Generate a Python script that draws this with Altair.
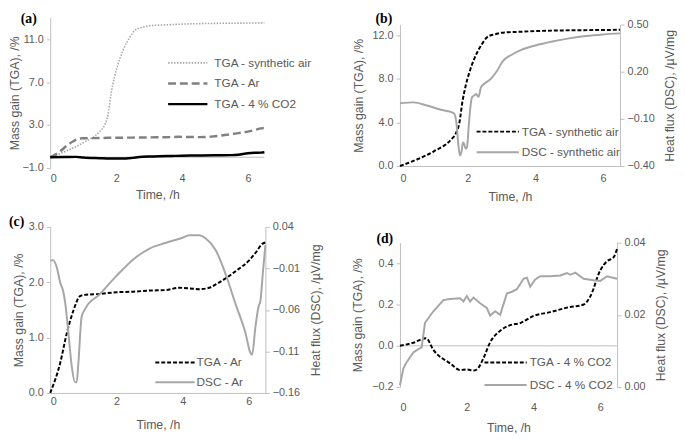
import altair as alt
import pandas as pd

# ---------------- data ----------------
# TGA, synthetic air (mass gain, %)
t_air = [0, 0.5, 1.0, 1.5, 1.65, 1.75, 1.85, 1.95, 2.05, 2.2, 2.4, 2.6, 2.8, 3.0, 3.5, 4.0, 5.0, 6.0, 6.5]
m_air = [0, 0.6, 1.35, 2.4, 3.0, 3.9, 6.0, 7.5, 8.6, 9.9, 11.1, 11.9, 12.1, 12.25, 12.33, 12.4, 12.47, 12.5, 12.52]

# DSC, synthetic air (heat flux, uV/mg)
t_dsc_air = [0, 0.4, 0.8, 1.2, 1.5, 1.6, 1.67, 1.72, 1.77, 1.82, 1.86, 1.9, 1.94, 1.98, 2.03, 2.08, 2.13,
             2.2, 2.25, 2.32, 2.39, 2.5, 2.66, 2.85, 3.04, 3.3, 3.6, 4.0, 4.5, 5.0, 5.5, 6.0, 6.5]
h_dsc_air = [0.0, 0.005, -0.015, -0.042, -0.056, -0.067, -0.13, -0.254, -0.333, -0.306, -0.25, -0.262, -0.29,
             -0.28, -0.15, -0.025, 0.037, 0.05, 0.058, 0.04, 0.1, 0.125, 0.15, 0.2, 0.267, 0.308, 0.34, 0.367,
             0.392, 0.412, 0.427, 0.437, 0.444]

# TGA, Ar
t_ar = [0, 0.3, 0.5, 0.7, 0.9, 1.0, 1.5, 2.0, 2.5, 3.0, 3.5, 3.9, 4.2, 4.5, 4.8, 5.0, 5.3, 5.6, 6.0, 6.2, 6.4, 6.5]
m_ar = [0, 0.54, 1.08, 1.49, 1.75, 1.77, 1.79, 1.82, 1.83, 1.85, 1.86, 1.9, 1.89, 1.875, 1.9, 1.96, 2.07, 2.2,
        2.39, 2.53, 2.69, 2.72]

# DSC, Ar
t_dsc_ar = [0, 0.08, 0.2, 0.3, 0.4, 0.45, 0.55, 0.65, 0.75, 0.8, 0.85, 0.95, 1.05, 1.5, 2.0, 2.5, 3.0, 3.5,
            4.0, 4.2, 4.5, 4.7, 5.0, 5.3, 5.6, 5.9, 6.05, 6.1, 6.2, 6.3, 6.35, 6.42, 6.5]
h_dsc_ar = [-0.001, 0.0, -0.009, -0.027, -0.039, -0.051, -0.088, -0.128, -0.147, -0.147, -0.124, -0.068,
            -0.059, -0.041, -0.019, 0.0006, 0.014, 0.021, 0.027, 0.030, 0.030, 0.026, 0.012, -0.017, -0.053,
            -0.088, -0.112, -0.114, -0.080, -0.055, -0.049, -0.017, 0.018]

# TGA, 4 % CO2
t_co2 = [0, 0.4, 0.78, 1.0, 1.5, 1.8, 2.0, 2.2, 2.3, 2.5, 2.7, 3.0, 3.3, 3.6, 4.0, 4.5, 5.0, 5.5, 5.7, 6.0,
         6.2, 6.4, 6.5]
m_co2 = [0.0, 0.015, 0.037, -0.02, -0.085, -0.117, -0.115, -0.12, -0.115, -0.06, 0.017, 0.073, 0.10, 0.11,
         0.145, 0.163, 0.185, 0.2, 0.24, 0.367, 0.41, 0.43, 0.47]

# DSC, 4 % CO2
t_dsc_co2 = [0, 0.1, 0.2, 0.4, 0.55, 0.65, 0.75, 1.0, 1.3, 1.5, 1.8, 1.9, 2.0, 2.1, 2.2, 2.4, 2.6, 2.7, 2.85,
             3.0, 3.2, 3.35, 3.5, 3.7, 3.8, 3.9, 4.05, 4.2, 4.5, 4.8, 5.0, 5.1, 5.25, 5.5, 5.8, 6.0, 6.2, 6.5]
h_dsc_co2 = [0.0005, 0.0051, 0.0069, 0.0096, 0.0105, 0.011, 0.0178, 0.021, 0.0241, 0.0244, 0.0246, 0.0237,
             0.0252, 0.0237, 0.0248, 0.0232, 0.0219, 0.0198, 0.021, 0.020, 0.0259, 0.0264, 0.0271, 0.030,
             0.0303, 0.0278, 0.0298, 0.0307, 0.0307, 0.0309, 0.0316, 0.0311, 0.0317, 0.030, 0.0296, 0.0294,
             0.0307, 0.030]

x_ticks = [0, 2, 4, 6]
panel_labels = ["(a)", "(b)", "(c)", "(d)"]
legend_a = ["TGA - synthetic air", "TGA - Ar", "TGA - 4 % CO2"]
legend_b = ["TGA - synthetic air", "DSC - synthetic air"]
legend_c = ["TGA - Ar", "DSC - Ar"]
legend_d = ["TGA - 4 % CO2", "DSC - 4 % CO2"]

# ---------------- styles ----------------
FONT = "Liberation Sans"
TXT = "#595959"
AXG = "#bfbfbf"
DSCG = "#a6a6a6"
TGA_DASH = [4, 2]

one = pd.DataFrame({"k": [0]})


def df(t, v):
    return pd.DataFrame({"t": t, "v": v})


def x_enc(domain_line, lpad, tpad):
    return alt.X("t:Q", scale=alt.Scale(domain=[0, 6.5], nice=False),
                 axis=alt.Axis(values=x_ticks, title="Time, /h", format="d", domain=domain_line, ticks=False,
                               labelPadding=lpad, titlePadding=tpad))


def left_y(domain, values, tpad, rng=None, fmt=".1f"):
    sc = dict(domain=domain, nice=False, zero=False)
    if rng:
        sc["range"] = rng
    return alt.Y("v:Q", scale=alt.Scale(**sc),
                 axis=alt.Axis(values=values, format=fmt, title="Mass gain (TGA), /%", orient="left",
                               titlePadding=tpad, labelPadding=3))


def right_y(domain, values, rng=None, fmt=".2f"):
    sc = dict(domain=domain, nice=False, zero=False)
    if rng:
        sc["range"] = rng
    return alt.Y("v:Q", scale=alt.Scale(**sc),
                 axis=alt.Axis(values=values, format=fmt, title="Heat flux (DSC), /µV/mg", orient="right",
                               titleAngle=270, titleBaseline="top", titlePadding=10, labelPadding=3))


def legend_entry(text, lx1, lx2, ty, tx, color, width, dash=None):
    rule_kw = dict(color=color, strokeWidth=width)
    if dash:
        rule_kw["strokeDash"] = dash
    r = alt.Chart(one).mark_rule(**rule_kw).encode(
        x=alt.value(lx1), x2=alt.value(lx2), y=alt.value(ty))
    t = alt.Chart(one).mark_text(align="left", baseline="middle", font=FONT, fontSize=12, color=TXT).encode(
        x=alt.value(tx), y=alt.value(ty), text=alt.value(text))
    return [r, t]


def panel_label(text, x, y):
    return alt.Chart(one).mark_text(align="left", baseline="alphabetic", font="Liberation Serif",
                                    fontSize=14, fontWeight="bold", color="black").encode(
        x=alt.value(x), y=alt.value(y), text=alt.value(text))


# ---------------- panel (a) ----------------
Xa = x_enc(False, 5, 5)
ya = left_y([-1, 13], [-1, 3, 7, 11], 1)
a_zero = alt.Chart(one).mark_rule(color=AXG, strokeWidth=1).encode(y=alt.datum(0))
a_air = alt.Chart(df(t_air, m_air)).mark_line(color=DSCG, strokeWidth=1.6, strokeDash=[1.5, 1.5],
                                              interpolate="monotone").encode(x=Xa, y=ya)
a_ar = alt.Chart(df(t_ar, m_ar)).mark_line(color="#808080", strokeWidth=2.5, strokeDash=[8, 4],
                                           interpolate="monotone").encode(x=Xa, y=ya)
a_co2 = alt.Chart(df(t_co2, m_co2)).mark_line(color="black", strokeWidth=2.5,
                                              interpolate="monotone").encode(x=Xa, y=ya)
leg_a = (legend_entry(legend_a[0], 120, 160, 46, 167, DSCG, 1.6, [1.5, 1.5])
         + legend_entry(legend_a[1], 120, 160, 67, 167, "#808080", 2.5, [8, 4])
         + legend_entry(legend_a[2], 120, 160, 88, 167, "black", 2.5))
panel_a = alt.layer(a_zero, a_air, a_ar, a_co2, *leg_a, panel_label(panel_labels[0], -30, 5)).properties(
    width=218, height=153)

# ---------------- panel (b) ----------------
Xb = x_enc(True, 7, 7)
B_RANGE = [151, 7]
yb_l = left_y([0, 13], [0, 4, 8, 12], 7, B_RANGE)
yb_r = right_y([-0.4, 0.5], [-0.4, -0.1, 0.2, 0.5], B_RANGE)
b_tga = alt.Chart(df(t_air, m_air)).mark_line(color="black", strokeWidth=2, strokeDash=TGA_DASH,
                                              interpolate="monotone").encode(x=Xb, y=yb_l)
b_dsc = alt.Chart(df(t_dsc_air, h_dsc_air)).mark_line(color=DSCG, strokeWidth=2,
                                                      interpolate="monotone").encode(x=Xb, y=yb_r)
leg_b = (legend_entry(legend_b[0], 78, 121, 116, 124, "black", 2, TGA_DASH)
         + legend_entry(legend_b[1], 78, 121, 137, 124, DSCG, 2))
panel_b = alt.layer(
    alt.layer(b_tga, *leg_b, panel_label(panel_labels[1], -25, 5)),
    b_dsc,
).resolve_scale(y="independent").properties(width=224, height=151)

# ---------------- panel (c) ----------------
Xc = x_enc(True, 3, 12)
yc_l = left_y([0, 3], [0, 1, 2, 3], 3)
yc_r = right_y([-0.16, 0.04], [-0.16, -0.11, -0.06, -0.01, 0.04])
c_tga = alt.Chart(df(t_ar, m_ar)).mark_line(color="black", strokeWidth=2, strokeDash=TGA_DASH,
                                            interpolate="monotone").encode(x=Xc, y=yc_l)
c_dsc = alt.Chart(df(t_dsc_ar, h_dsc_ar)).mark_line(color=DSCG, strokeWidth=2,
                                                    interpolate="monotone").encode(x=Xc, y=yc_r)
leg_c = (legend_entry(legend_c[0], 107, 147, 138, 149, "black", 2, TGA_DASH)
         + legend_entry(legend_c[1], 107, 147, 158, 149, DSCG, 2))
panel_c = alt.layer(
    alt.layer(c_tga, *leg_c, panel_label(panel_labels[2], -42, -1)),
    c_dsc,
).resolve_scale(y="independent").properties(width=219, height=169)

# ---------------- panel (d) ----------------
Xd = x_enc(False, 15, 9)
yd_l = left_y([-0.2, 0.5], [-0.2, 0, 0.2, 0.4], 7)
yd_r = right_y([0, 0.04], [0, 0.02, 0.04])
d_zero = alt.Chart(one).mark_rule(color=AXG, strokeWidth=1).encode(y=alt.datum(0))
d_tga = alt.Chart(df(t_co2, m_co2)).mark_line(color="black", strokeWidth=2, strokeDash=TGA_DASH,
                                              interpolate="monotone").encode(x=Xd, y=yd_l)
d_dsc = alt.Chart(df(t_dsc_co2, h_dsc_co2)).mark_line(color=DSCG, strokeWidth=2).encode(x=Xd, y=yd_r)
leg_d = (legend_entry(legend_d[0], 86, 129, 122, 132, "black", 2, TGA_DASH)
         + legend_entry(legend_d[1], 86, 129, 145, 132, DSCG, 2))
panel_d = alt.layer(
    alt.layer(d_zero, d_tga, *leg_d, panel_label(panel_labels[3], -24, 0)),
    d_dsc,
).resolve_scale(y="independent").properties(width=221, height=147)

left_col = alt.vconcat(panel_a, panel_c, spacing=14)
right_col = alt.vconcat(panel_b, panel_d, spacing=29)

chart = alt.hconcat(left_col, right_col, spacing=30).properties(
    padding={"left": 0, "top": 0, "right": 0, "bottom": 0},
    background="white",
).configure_view(stroke=None).configure_axis(
    labelFont=FONT, titleFont=FONT, labelFontSize=11, titleFontSize=12.5, labelColor=TXT, titleColor=TXT,
    titleFontWeight="normal", domainColor=AXG, tickColor=AXG, grid=False, tickSize=4,
)

chart.save("out.html", embed_options={"renderer": "svg", "actions": False})
